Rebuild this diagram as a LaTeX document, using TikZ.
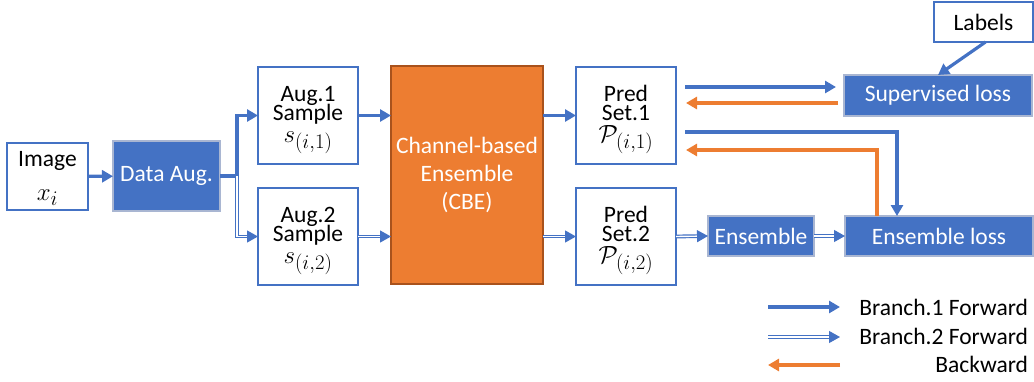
\documentclass[tikz,border=0pt]{standalone}
\usepackage{fontspec}
\setmainfont{Carlito}
\usetikzlibrary{arrows.meta}
\definecolor{pblue}{HTML}{4472C4}
\definecolor{porange}{HTML}{ED7D31}
\definecolor{pedge}{HTML}{A9B6D2}
\definecolor{oedge}{HTML}{A9521C}
\newcommand{\mbig}[1]{{\fontsize{28}{21}\selectfont$#1$}}
\newcommand{\tribox}[6]{%
  \node[wbox, minimum width=100pt, minimum height=97pt] (#1) at (#2,#3) {};
  \node[ln] (#1-a) at ([yshift=-34.7pt]#1.north) {#4};
  \node[ln] (#1-b) at ([yshift=-53.7pt]#1.north) {#5};
  \node[mln] (#1-c) at ([yshift=-75pt]#1.north) {\mbig{#6}};}
\begin{document}
\begin{tikzpicture}[x=1pt,y=-1pt,
  every node/.style={inner sep=0pt, outer sep=0pt, font=\fontsize{23.5}{21}\selectfont},
  wbox/.style={draw=pblue, line width=1.3pt, fill=white, anchor=north west, align=center},
  bbox/.style={draw=pedge, line width=1.5pt, fill=pblue, text=white, anchor=north west, align=center},
  ln/.style={anchor=base, text height=12.5pt, text depth=4pt},
  mln/.style={anchor=base, text height=13pt, text depth=6pt},
  fwd/.style={draw=pblue, line width=3.2pt, -{Triangle[length=11pt,width=12pt]}},
  back/.style={draw=porange, line width=3.2pt, -{Triangle[length=11pt,width=12pt]}},
  dbl/.style={draw=pblue, double=white, double distance=1.4pt, line width=1.2pt, -{Triangle[length=11pt,width=12pt]}},
  lg/.style={anchor=east}
]
\useasboundingbox (0,0) rectangle (1034,381);
% boxes
\node[wbox, minimum width=81pt, minimum height=67pt] (img) at (7,143) {};
\node[ln] (img-a) at ([yshift=-23.7pt]img.north) {Image};
\node[mln] (img-b) at ([yshift=-57pt]img.north) {\mbig{x_i}};
\node[bbox, minimum width=107pt, minimum height=70pt] (da) at (113,141) {Data Aug.};
\tribox{a1}{258}{67}{Aug.1}{Sample}{s_{(i,1)}}
\tribox{a2}{258}{188}{Aug.2}{Sample}{s_{(i,2)}}
\node[draw=oedge, line width=1.5pt, fill=porange, text=white, anchor=north west, align=center,
      minimum width=152pt, minimum height=218pt, font=\fontsize{23.5}{28}\selectfont] (cbe) at (391,66) {Channel-based\\Ensemble\\(CBE)};
\tribox{p1}{576}{67}{Pred}{Set.1}{\mathcal{P}_{(i,1)}}
\tribox{p2}{576}{188}{Pred}{Set.2}{\mathcal{P}_{(i,2)}}
\node[bbox, minimum width=106pt, minimum height=40pt] (ens) at (708,216) {Ensemble};
\node[bbox, minimum width=188pt, minimum height=40pt] (el) at (845,216) {Ensemble loss};
\node[bbox, minimum width=188pt, minimum height=41pt] (sl) at (844,75) {Supervised loss};
\node[wbox, minimum width=99pt, minimum height=40pt] (lab) at (934,2) {Labels};
% coordinates
\coordinate (j) at ([xshift=17pt]da.east);
\coordinate (t1) at ([xshift=9pt,yshift=28.5pt]p1.east);
\coordinate (t2) at ([xshift=10pt,yshift=12.5pt]p1.east);
\coordinate (t3) at ([xshift=9pt,yshift=-16.5pt]p1.east);
\coordinate (t4) at ([xshift=10pt,yshift=-34.5pt]p1.east);
\coordinate (u3) at ([xshift=52pt]el.north west);
\coordinate (o3) at ([xshift=32pt]el.north west);
% connectors
\draw[fwd] (img) -- (da);
\draw[fwd] (da.east) -- (j) |- (a1.west);
\draw[dbl] (j) |- (a2.west);
\draw[fwd] (a1.east) -- (a1.east -| cbe.west);
\draw[dbl] (a2.east) -- (a2.east -| cbe.west);
\draw[fwd] (p1.west -| cbe.east) -- (p1.west);
\draw[dbl] (p2.west -| cbe.east) -- (p2.west);
\draw[fwd, shorten >=8pt] (t1) -- (t1 -| sl.west);
\draw[back, shorten <=6pt] (t2 -| sl.west) -- (t2);
\draw[fwd] (t3) -| (u3);
\draw[back] (o3) |- (t4);
\draw[dbl] (p2.east) -- (ens.west);
\draw[dbl] (ens.east) -- (el.west);
\draw[fwd] ([xshift=2pt]lab.south) -- (sl.north);
% legend
\coordinate (l1a) at (768,307); \coordinate (l1b) at (840,307);
\coordinate (l2a) at (768,337); \coordinate (l2b) at (840,337);
\coordinate (l3a) at (840,365); \coordinate (l3b) at (768,365);
\draw[fwd] (l1a) -- (l1b);
\draw[dbl] (l2a) -- (l2b);
\draw[back] (l3a) -- (l3b);
\node[lg] (lt1) at (1028,307) {Branch.1 Forward};
\node[lg] (lt2) at (1028,336) {Branch.2 Forward};
\node[lg] (lt3) at (1028,364) {Backward};
\end{tikzpicture}
\end{document}
